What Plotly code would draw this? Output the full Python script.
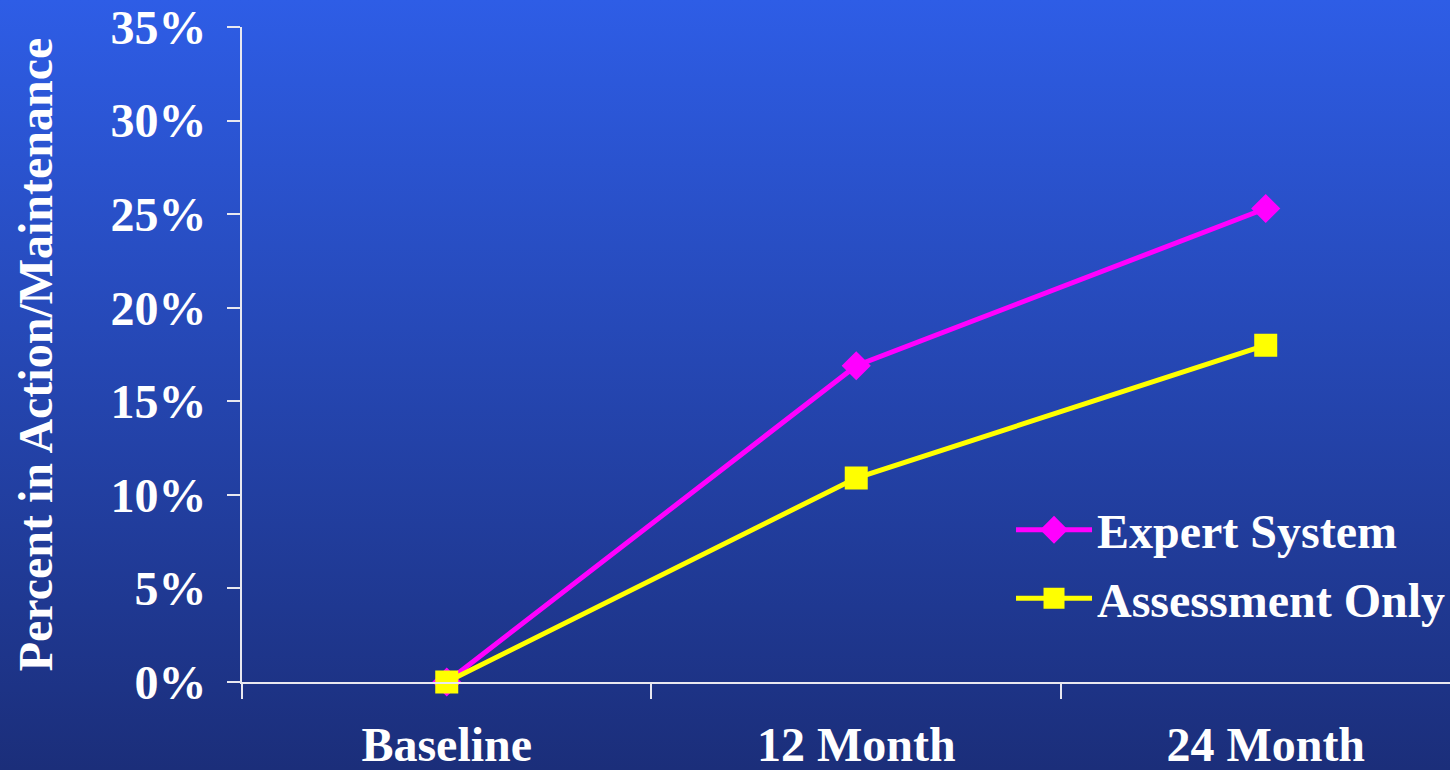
import base64
import plotly.graph_objects as go

# Survey waves and share of participants in Action/Maintenance (%)
waves = ["Baseline", "12 Month", "24 Month"]
expert_system = [0.0, 16.9, 25.3]
assessment_only = [0.0, 10.9, 18.0]

y_ticks = [0, 5, 10, 15, 20, 25, 30, 35]
y_tick_text = ["0%", "5%", "10%", "15%", "20%", "25%", "30%", "35%"]

W, H = 1450, 770
M_L, M_R, M_T, M_B = 242, 0, 27, 88
PW, PH = W - M_L - M_R, H - M_T - M_B

FONT = "Liberation Serif, Times New Roman, serif"
FS = 48
WHITE = "#ffffff"

# vertical blue gradient used as the slide background
svg = (
    f'<svg xmlns="http://www.w3.org/2000/svg" width="{W}" height="{H}" '
    f'preserveAspectRatio="none">'
    '<defs><linearGradient id="g" x1="0" y1="0" x2="0" y2="1">'
    '<stop offset="0" stop-color="#2E5DE6"/>'
    '<stop offset="1" stop-color="#1B2E7A"/>'
    '</linearGradient></defs>'
    f'<rect width="{W}" height="{H}" fill="url(#g)"/></svg>'
)
bg_src = "data:image/svg+xml;base64," + base64.b64encode(svg.encode()).decode()

fig = go.Figure()
fig.add_trace(go.Scatter(
    x=waves, y=expert_system, name="Expert System",
    mode="lines+markers", cliponaxis=False, legendgroup="a",
    line=dict(color="#FF00FF", width=5),
    marker=dict(symbol="diamond", size=17, color="#FF00FF",
                line=dict(color="#FF00FF", width=5)),
))
fig.add_trace(go.Scatter(
    x=waves, y=assessment_only, name="Assessment Only",
    mode="lines+markers", cliponaxis=False, legendgroup="b",
    line=dict(color="#FFFF00", width=5),
    marker=dict(symbol="square", size=18, color="#FFFF00",
                line=dict(color="#FFFF00", width=5)),
))

fig.update_layout(
    width=W, height=H,
    margin=dict(l=M_L, r=M_R, t=M_T, b=M_B, pad=0, autoexpand=False),
    paper_bgcolor="#24429F",
    plot_bgcolor="rgba(0,0,0,0)",
    font=dict(family=FONT, color=WHITE, size=FS, weight="bold"),
    images=[dict(
        source=bg_src, xref="paper", yref="paper",
        x=-M_L / PW, y=1 + M_T / PH, sizex=W / PW, sizey=H / PH,
        xanchor="left", yanchor="top", sizing="stretch", layer="below",
    )],
    showlegend=True,
    legend=dict(
        x=0.6366, y=0.29, xanchor="left", yanchor="top",
        bgcolor="rgba(0,0,0,0)", borderwidth=0,
        font=dict(family=FONT, size=FS, color=WHITE, weight="bold"),
        itemwidth=76, tracegroupgap=3,
    ),
    xaxis=dict(
        type="category", range=[-0.5, 2.45], automargin=False,
        showline=True, linecolor="#E8E8F0", linewidth=2,
        showgrid=False, zeroline=False,
        ticks="outside", tickson="boundaries", ticklen=15, tickwidth=2,
        tickcolor="#E8E8F0", ticklabelstandoff=19,
        tickfont=dict(family=FONT, size=FS, color=WHITE, weight="bold"),
    ),
    yaxis=dict(
        range=[0, 35], tickvals=y_ticks, ticktext=y_tick_text,
        automargin=False,
        showline=True, linecolor="#E8E8F0", linewidth=2,
        showgrid=False, zeroline=False,
        ticks="outside", ticklen=13, tickwidth=2, tickcolor="#E8E8F0",
        ticklabelstandoff=11,
        tickfont=dict(family=FONT, size=FS, color=WHITE, weight="bold"),
        title=dict(text="Percent in Action/Maintenance", standoff=43,
                   font=dict(family=FONT, size=FS, color=WHITE, weight="bold")),
    ),
)

fig.write_html("out.html")
